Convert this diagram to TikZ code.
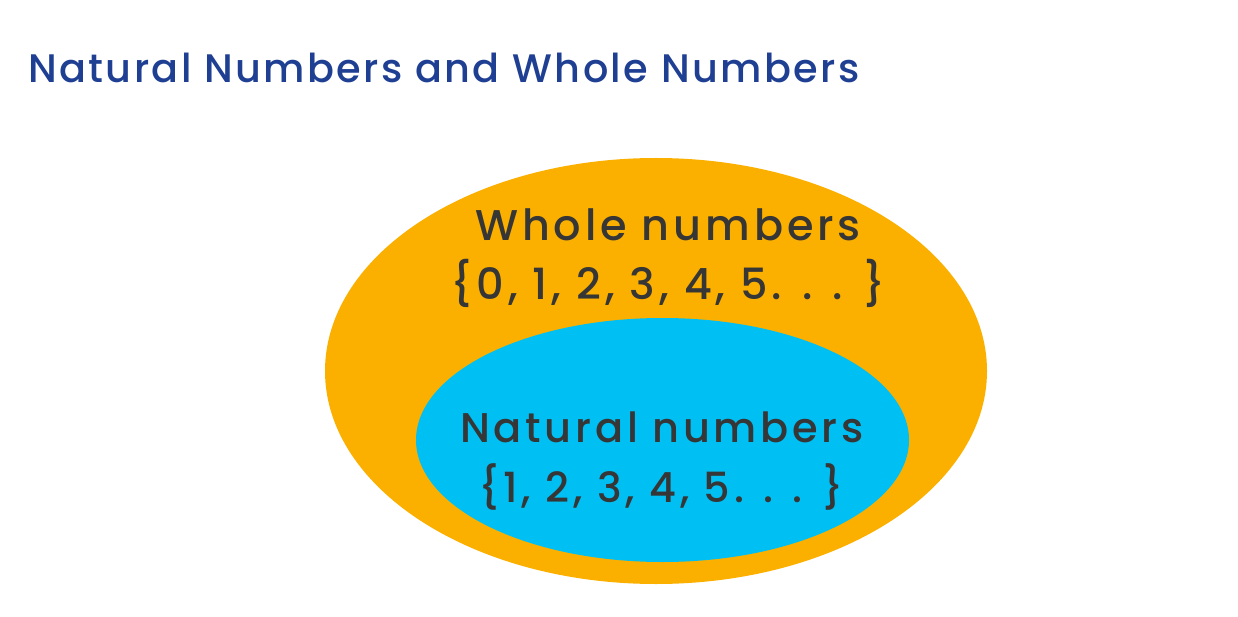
\documentclass[tikz,border=0pt]{standalone}
\usepackage{fontspec}
\setmainfont{Poppins Medium}[LetterSpace=6]
\newfontfamily\labelfont{Poppins Medium}[LetterSpace=9]
\definecolor{titleblue}{HTML}{1F3F93}
\definecolor{wholeorange}{HTML}{FBB000}
\definecolor{natblue}{HTML}{00BFF3}
\definecolor{txtgray}{HTML}{363636}
\begin{document}
\begin{tikzpicture}[x=1pt,y=-1pt,
  settext/.style={inner sep=0pt,text=txtgray,align=center,font=\labelfont\fontsize{43}{60}\selectfont},
  nattext/.style={inner sep=0pt,text=txtgray,align=center,font=\labelfont\fontsize{41.5}{60}\selectfont}]
\useasboundingbox (0,0) rectangle (1238,617);
\fill[white] (0,0) rectangle (1238,617);
\node[anchor=base west,inner sep=0pt,text=titleblue,font=\fontsize{39.8}{48}\selectfont] (title) at (28,83) {Natural Numbers and Whole Numbers};
\fill[wholeorange] (656,371) ellipse [x radius=331,y radius=213];
\node[coordinate] (outer) at (656,371) {};
\fill[natblue] (662.5,440) ellipse [x radius=246.5,y radius=122];
\node[coordinate] (inner) at (662.5,440) {};
\node[settext,anchor=base] (wholelbl) at (668,241) {Whole numbers};
\node[settext,anchor=base] (wholeset) at (668,300) {\{0, 1, 2, 3, 4, 5. . . \}};
\node[nattext,anchor=base] (natlbl) at (662,442) {Natural numbers};
\node[nattext,anchor=base] (natset) at (661,502) {\{1, 2, 3, 4, 5. . . \}};
\end{tikzpicture}
\end{document}
